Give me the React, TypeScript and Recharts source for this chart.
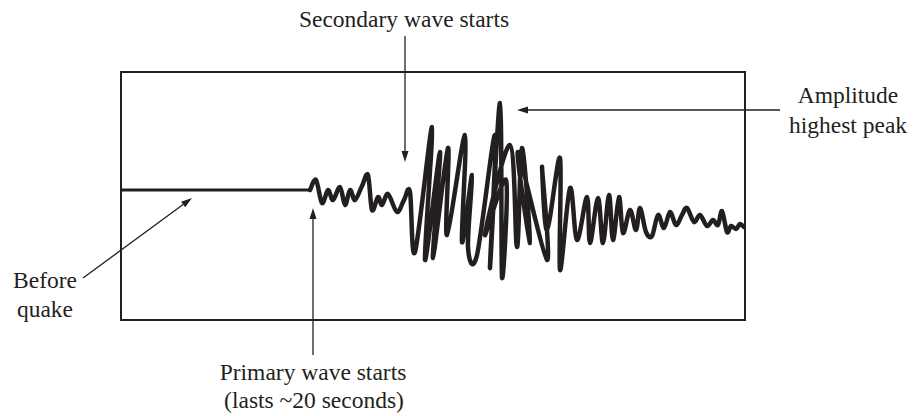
import { Line, LineChart, ReferenceArea, ReferenceLine, XAxis, YAxis } from 'recharts';

// time in "seconds", amplitude in arbitrary units (0 = rest position)
const flatTime = [0, 37.8];
const flatAmp = [0, 0];

const waveTime = [
  37.8, 39, 40.2, 41.4, 42.4, 43.8, 44.8, 45.8, 46.8, 48.2, 49.4, 50.2, 51.4, 52.2, 53.4, 55.2, 56.6, 57.8,
  58.8, 62.2, 60.8, 63.8, 62.4, 65.4, 65.2, 68.8, 68.2, 70.2, 69.4, 71.2, 74.8, 73.8, 75.8, 76.2, 77,
  72.8, 77.8, 79.2, 80.2, 81.8, 79.4, 85.2, 84.2, 85.2, 87.8, 87.8, 89.8, 91.2, 93.2, 93.8, 95.4, 96.4,
  97.6, 98.4, 99.6, 100.4, 101.8, 103, 103.8, 105, 106.2, 107.4, 108.6, 109.8, 111, 112.2, 113.2, 114.6,
  115.8, 117.2, 118.4, 119.4, 120.2, 121.2, 122, 123, 123.8, 124.6,
];
const waveAmp = [
  0, 1.0, -1.3, 0, -1.0, 0.3, -1.5, 0, -1.0, 0.4, 1.5, -2.0, -0.7, -1.5, -0.4, -2.2, -1.0, -0.2,
  -6.2, 6.3, -7.0, 3.8, -6.8, 4.2, -4.5, 5.5, -5.2, 1.5, -5.7, -6.5, 5.5, -7.8, 8.7, -8.7, 1.0,
  -4.5, 4.5, -5.7, 4.2, -5.3, 3.8, -7.0, 2.3, -4.0, 3.2, -8.0, 0.2, -5.0, -0.7, -5.3, -0.8, -5.3,
  -0.5, -5.0, -0.7, -4.3, -2.0, -4.0, -1.8, -4.2, -4.6, -2.5, -3.8, -2.2, -3.5, -2.5, -1.8, -3.2,
  -2.5, -3.6, -3.0, -3.5, -2.1, -4.2, -3.6, -3.9, -3.4, -3.7,
];

const flatData = flatTime.map((t, i) => ({ t, a: flatAmp[i] }));
const waveData = waveTime.map((t, i) => ({ t, a: waveAmp[i] }));

const INK = '#231f20';
const X_DOMAIN: [number, number] = [0, 124.8];
const Y_DOMAIN: [number, number] = [-13, 11.8];

// smooth pen-like curve through the points (Catmull-Rom), works for back-and-forth strokes
const penCurve = (context: any) => {
  let pts: number[][] = [];
  return {
    areaStart() {},
    areaEnd() {},
    lineStart() {
      pts = [];
    },
    point(x: number, y: number) {
      pts.push([+x, +y]);
    },
    lineEnd() {
      if (!pts.length) return;
      context.moveTo(pts[0][0], pts[0][1]);
      for (let i = 0; i < pts.length - 1; i++) {
        const p0 = pts[i - 1] || pts[i];
        const p1 = pts[i];
        const p2 = pts[i + 1];
        const p3 = pts[i + 2] || p2;
        context.bezierCurveTo(
          p1[0] + (p2[0] - p0[0]) / 6,
          p1[1] + (p2[1] - p0[1]) / 6,
          p2[0] - (p3[0] - p1[0]) / 6,
          p2[1] - (p3[1] - p1[1]) / 6,
          p2[0],
          p2[1],
        );
      }
    },
  };
};

const Arrow = (props: any) => {
  const { x1, y1, x2, y2 } = props;
  if ([x1, y1, x2, y2].some((v) => typeof v !== 'number' || isNaN(v))) return null;
  const ang = Math.atan2(y2 - y1, x2 - x1);
  const len = 11;
  const half = 3.5;
  const bx = x2 - len * Math.cos(ang);
  const by = y2 - len * Math.sin(ang);
  const px = -Math.sin(ang) * half;
  const py = Math.cos(ang) * half;
  return (
    <g>
      <line x1={x1} y1={y1} x2={bx} y2={by} stroke={INK} strokeWidth={1.3} />
      <polygon points={`${x2},${y2} ${bx + px},${by + py} ${bx - px},${by - py}`} fill={INK} />
    </g>
  );
};

const textStyle = { fontFamily: '"Liberation Serif", "DejaVu Serif", serif', fontSize: 23.5, fill: INK };

export default function App() {
  return (
    <div style={{ position: 'absolute', left: 0, top: 0, width: 915, height: 416, background: '#fff' }}>
      <LineChart width={915} height={416} margin={{ top: 72, right: 170, bottom: 96, left: 121 }}>
        <XAxis type="number" dataKey="t" domain={X_DOMAIN} allowDataOverflow hide />
        <YAxis type="number" dataKey="a" domain={Y_DOMAIN} allowDataOverflow hide />
        <ReferenceArea
          x1={X_DOMAIN[0]}
          x2={X_DOMAIN[1]}
          y1={Y_DOMAIN[0]}
          y2={Y_DOMAIN[1]}
          fill="none"
          fillOpacity={0}
          stroke={INK}
          strokeWidth={2}
        />
        <Line
          data={flatData}
          dataKey="a"
          type="linear"
          stroke={INK}
          strokeWidth={3}
          dot={false}
          isAnimationActive={false}
        />
        <Line
          data={waveData}
          dataKey="a"
          type={penCurve as any}
          stroke={INK}
          strokeWidth={4.5}
          strokeLinejoin="round"
          strokeLinecap="round"
          dot={false}
          isAnimationActive={false}
        />
        <ReferenceLine segment={[{ x: 56.8, y: 15.4 }, { x: 56.8, y: 2.8 }]} ifOverflow="visible" shape={Arrow} />
        <ReferenceLine segment={[{ x: 131.8, y: 8.0 }, { x: 79.2, y: 8.0 }]} ifOverflow="visible" shape={Arrow} />
        <ReferenceLine segment={[{ x: -7.6, y: -8.8 }, { x: 14.2, y: -0.8 }]} ifOverflow="visible" shape={Arrow} />
        <ReferenceLine segment={[{ x: 38.4, y: -16.5 }, { x: 38.4, y: -1.8 }]} ifOverflow="visible" shape={Arrow} />
      </LineChart>
      <svg width={915} height={416} style={{ position: 'absolute', left: 0, top: 0, pointerEvents: 'none' }}>
        <text x={404} y={27} textAnchor="middle" style={textStyle}>Secondary wave starts</text>
        <text x={848} y={103} textAnchor="middle" style={textStyle}>Amplitude</text>
        <text x={848} y={133} textAnchor="middle" style={textStyle}>highest peak</text>
        <text x={45} y={288} textAnchor="middle" style={textStyle}>Before</text>
        <text x={45} y={317} textAnchor="middle" style={textStyle}>quake</text>
        <text x={313} y={380} textAnchor="middle" style={textStyle}>Primary wave starts</text>
        <text x={314} y={408} textAnchor="middle" style={textStyle}>(lasts ~20 seconds)</text>
      </svg>
    </div>
  );
}
